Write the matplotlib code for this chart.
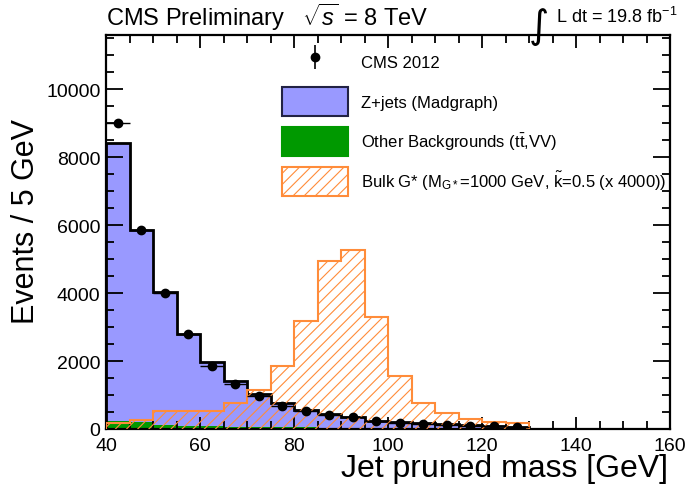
import numpy as np
import matplotlib
matplotlib.use("Agg")
import matplotlib.pyplot as plt
from matplotlib.patches import Patch
from matplotlib.legend_handler import HandlerErrorbar
from matplotlib.ticker import MultipleLocator

# 5 GeV bins of the pruned jet mass
bin_edges = [40, 45, 50, 55, 60, 65, 70, 75, 80, 85, 90, 95, 100, 105, 110, 115, 120, 125, 130]

# events per bin
data_2012 = [9020, 5860, 3990, 2785, 1843, 1323, 980, 665, 540, 412, 343, 245, 176, 157, 127, 98, 78, 59]
zjets_mc = [8170, 5650, 3910, 2690, 1875, 1345, 960, 730, 520, 401, 308, 215, 171, 147, 119, 93, 76, 58]
other_bkg = [250, 200, 120, 100, 85, 70, 60, 50, 45, 40, 35, 30, 25, 20, 18, 15, 12, 10]
bulk_graviton = [170, 275, 530, 530, 530, 765, 1160, 1865, 3170, 4950, 5275, 3285, 1560, 775, 460, 295, 215, 185]

legend_labels = [
    "CMS 2012",
    "Z+jets (Madgraph)",
    r"Other Backgrounds (t$\mathregular{\bar{t}}$,VV)",
    r"Bulk G* (M$_{\mathregular{G*}}$=1000 GeV, $\mathregular{\tilde{k}}$=0.5 (x 4000))",
]

BLUE = "#9999ff"
GREEN = "#009900"
ORANGE = "#ff8c3a"

plt.rcParams["font.family"] = ["Liberation Sans", "DejaVu Sans"]
plt.rcParams["mathtext.fontset"] = "custom"
plt.rcParams["mathtext.rm"] = "Liberation Sans"
plt.rcParams["mathtext.it"] = "Liberation Sans:italic"
plt.rcParams["mathtext.bf"] = "Liberation Sans:bold"
plt.rcParams["hatch.linewidth"] = 0.8

W, H = 692, 489
fig = plt.figure(figsize=(W / 100, H / 100), dpi=100)
ax = fig.add_axes([106 / W, 59 / H, 564 / W, 394 / H])

edges = np.array(bin_edges)
centers = edges[:-1] + 2.5
other = np.array(other_bkg)
stack_top = other + np.array(zjets_mc)
data = np.array(data_2012)

# stacked backgrounds
ax.stairs(stack_top, edges, baseline=other, fill=True, color=BLUE, zorder=1)
ax.stairs(other, edges, fill=True, color=GREEN, zorder=1)
ax.stairs(stack_top, edges, color="black", lw=2, zorder=2)

# signal overlay, hatched
ax.stairs(bulk_graviton, edges, fill=True, facecolor="none", edgecolor=ORANGE,
          hatch="///", lw=0, zorder=3)
ax.stairs(bulk_graviton, edges, color=ORANGE, lw=1.5, zorder=3)

# data points
ax.errorbar(centers, data, xerr=2.5, yerr=np.sqrt(data), fmt="o", color="black",
            ms=6, lw=1, capsize=0, zorder=5)

ax.set_xlim(40, 160)
ax.set_ylim(0, 11600)
ax.xaxis.set_major_locator(MultipleLocator(20))
ax.xaxis.set_minor_locator(MultipleLocator(5))
ax.yaxis.set_major_locator(MultipleLocator(2000))
ax.yaxis.set_minor_locator(MultipleLocator(500))
ax.tick_params(which="both", direction="in", top=True, right=True, width=1.3)
ax.tick_params(axis="x", which="major", length=9, labelsize=14, pad=6)
ax.tick_params(axis="x", which="minor", length=5.5)
ax.tick_params(axis="y", which="major", length=12, labelsize=14, pad=4)
ax.tick_params(axis="y", which="minor", length=6)
for sp in ax.spines.values():
    sp.set_linewidth(1.6)
# lift the zero label a touch so it clears the "40" below it
ax.get_yticklabels()[0].set_va("bottom")

# legend
data_proxy = ax.errorbar([np.nan], [np.nan], yerr=[1], fmt="o", color="black", ms=6, lw=1.2)
handles = [
    data_proxy,
    Patch(facecolor=BLUE, edgecolor="#222244", lw=1.5),
    Patch(facecolor=GREEN, edgecolor=GREEN, lw=1.5),
    Patch(facecolor="white", edgecolor=ORANGE, hatch="///", lw=1.5),
]
ax.legend(handles, legend_labels, loc="upper left",
          bbox_to_anchor=(282 / W, 1 - 48 / H), bbox_transform=fig.transFigure,
          frameon=False, fontsize=12, handlelength=3.96, handleheight=2.3,
          labelspacing=0.66, handletextpad=0.78, borderpad=0, borderaxespad=0,
          numpoints=1, handler_map={data_proxy: HandlerErrorbar(yerr_size=0.7)})

# axis titles
fig.text(668 / W, 1 - 477 / H, "Jet pruned mass [GeV]", ha="right", va="baseline", fontsize=23)
fig.text(26 / W, 1 - 222 / H, "Events / 5 GeV", rotation=90, ha="center", va="center", fontsize=22)

# header
fig.text(106 / W, 1 - 26 / H, r"CMS Preliminary   $\sqrt{s}$ = 8 TeV", fontsize=17, va="baseline")
fig.text(529 / W, 1 - 38 / H, "\u222b", fontsize=28, family="DejaVu Sans", va="baseline")
fig.text(556 / W, 1 - 23 / H, r"L dt = 19.8 fb$^{\mathregular{-1}}$", fontsize=13, va="baseline")

fig.savefig("out.png", dpi=100)
